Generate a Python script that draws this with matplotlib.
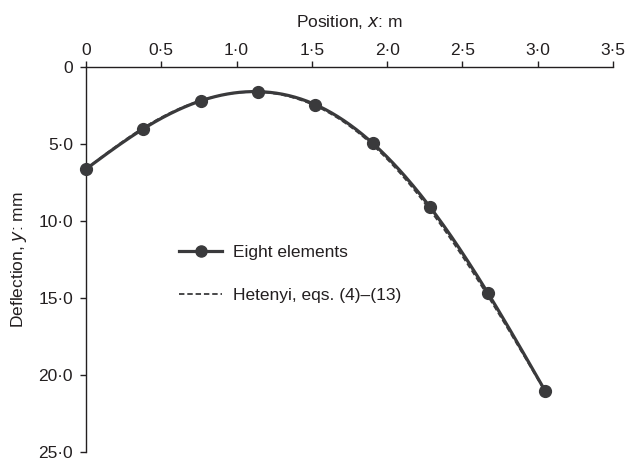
import numpy as np
import matplotlib
matplotlib.use("Agg")
import matplotlib.pyplot as plt
from matplotlib.lines import Line2D

plt.rcParams['font.family'] = ['Liberation Sans', 'DejaVu Sans']

# Data
x_fe = [0.0, 0.381, 0.762, 1.143, 1.524, 1.905, 2.286, 2.667, 3.048]
y_fe = [6.61, 3.99, 2.17, 1.57, 2.42, 4.94, 9.10, 14.65, 21.03]

x_het = [0.0, 0.381, 0.762, 1.143, 1.524, 1.905, 2.286, 2.667, 3.048]
y_het = [6.60, 3.92, 2.15, 1.60, 2.50, 5.06, 9.30, 14.85, 21.08]

x_ticks = [0, 0.5, 1.0, 1.5, 2.0, 2.5, 3.0, 3.5]
x_ticklabels = ['0', '0·5', '1·0', '1·5', '2·0', '2·5', '3·0', '3·5']
y_ticks = [0, 5, 10, 15, 20, 25]
y_ticklabels = ['0', '5·0', '10·0', '15·0', '20·0', '25·0']

label_fe = 'Eight elements'
label_het = 'Hetenyi, eqs. (4)–(13)'


def natural_spline(x, y, n=300):
    x = np.asarray(x, float)
    y = np.asarray(y, float)
    m = len(x)
    h = np.diff(x)
    A = np.zeros((m, m))
    b = np.zeros(m)
    A[0, 0] = 1
    A[-1, -1] = 1
    for i in range(1, m - 1):
        A[i, i - 1] = h[i - 1]
        A[i, i] = 2 * (h[i - 1] + h[i])
        A[i, i + 1] = h[i]
        b[i] = 3 * ((y[i + 1] - y[i]) / h[i] - (y[i] - y[i - 1]) / h[i - 1])
    c = np.linalg.solve(A, b)
    bb = np.zeros(m - 1)
    d = np.zeros(m - 1)
    for i in range(m - 1):
        bb[i] = (y[i + 1] - y[i]) / h[i] - h[i] * (2 * c[i] + c[i + 1]) / 3
        d[i] = (c[i + 1] - c[i]) / (3 * h[i])
    xs = np.linspace(x[0], x[-1], n)
    idx = np.clip(np.searchsorted(x, xs) - 1, 0, m - 2)
    dx = xs - x[idx]
    ys = y[idx] + bb[idx] * dx + c[idx] * dx ** 2 + d[idx] * dx ** 3
    return xs, ys


FS = 12.5
W, H = 627, 459
fig = plt.figure(figsize=(W / 100, H / 100), dpi=100)
left, right, top, bottom = 86, 613, 67.5, 451.5
ax = fig.add_axes([left / W, 1 - bottom / H, (right - left) / W, (bottom - top) / H])

line_col = '#3a3a3c'
text_col = '#231f20'

xs, ys = natural_spline(x_het, y_het)
ax.plot(xs, ys, color=line_col, lw=1.3, linestyle=(0, (3, 1.6)), clip_on=False,
        zorder=2)
xs2, ys2 = natural_spline(x_fe, y_fe)
ax.plot(xs2, ys2, color=line_col, lw=2.3, clip_on=False, zorder=3)
ax.plot(x_fe, y_fe, 'o', color=line_col, ms=8.5, clip_on=False, zorder=4)

ax.set_xlim(0, 3.5)
ax.set_ylim(25, 0)

ax.xaxis.tick_top()
ax.xaxis.set_label_position('top')
ax.set_xticks(x_ticks)
ax.set_xticklabels(x_ticklabels)
ax.set_yticks(y_ticks)
ax.set_yticklabels(y_ticklabels)

ax.tick_params(axis='both', direction='out', length=4.3, width=1.0,
               colors=text_col, labelsize=FS)
ax.tick_params(axis='x', pad=2.8)
ax.tick_params(axis='y', pad=5.0)
for side in ['right', 'bottom']:
    ax.spines[side].set_visible(False)
for side in ['left', 'top']:
    ax.spines[side].set_color(text_col)
    ax.spines[side].set_linewidth(1.0)

ax.set_xlabel('Position, $\\mathit{x}$: m', fontsize=FS, color=text_col, labelpad=11)
ax.set_ylabel('Deflection, $\\mathit{y}$: mm', fontsize=FS, color=text_col, labelpad=7)

h1 = Line2D([], [], color=line_col, lw=2.3, marker='o', ms=8)
h2 = Line2D([], [], color=line_col, lw=1.3, linestyle=(0, (3, 1.6)))
leg = fig.legend([h1, h2], [label_fe, label_het], loc='upper left',
                 bbox_to_anchor=(179 / W, 1 - 245 / H), frameon=False,
                 fontsize=FS, handlelength=2.48, handletextpad=0.63,
                 labelspacing=1.6, borderpad=0, borderaxespad=0,
                 markerscale=1.0)
for t in leg.get_texts():
    t.set_color(text_col)

fig.savefig('out.png', dpi=100)
